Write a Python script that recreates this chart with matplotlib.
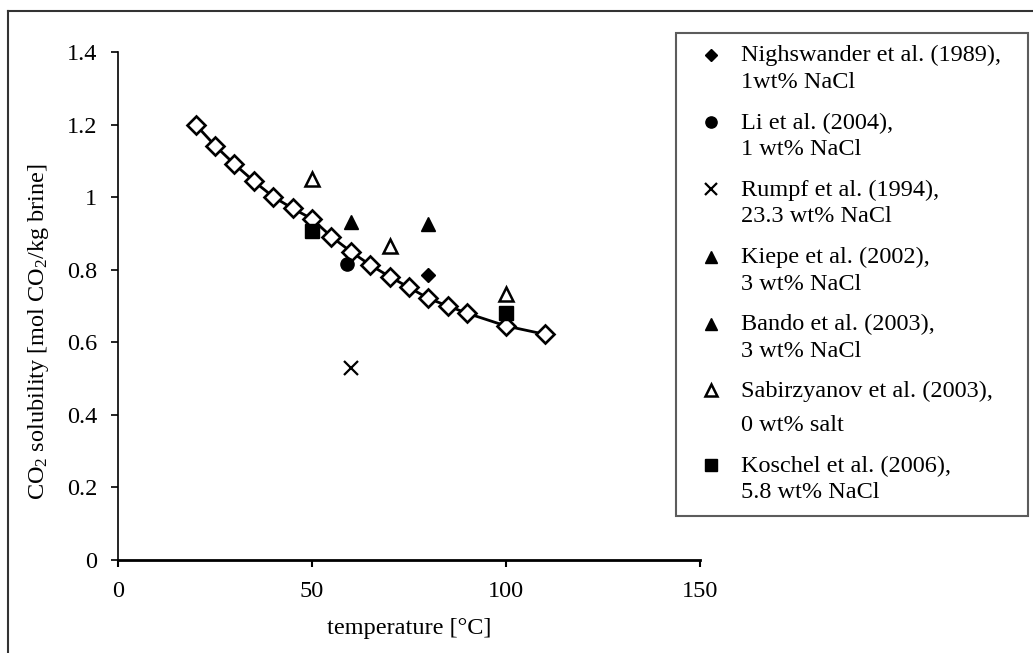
import matplotlib
matplotlib.use("Agg")
import matplotlib.pyplot as plt
from matplotlib.lines import Line2D
from matplotlib.legend_handler import HandlerLine2D

plt.rcParams['font.family'] = ['Liberation Serif', 'DejaVu Serif']
plt.rcParams['mathtext.fontset'] = 'custom'
plt.rcParams['mathtext.rm'] = 'Liberation Serif'
plt.rcParams['mathtext.it'] = 'Liberation Serif:italic'
FS = 17.5

# Model curve (open diamonds with line)
model_T = [20, 25, 30, 35, 40, 45, 50, 55, 60, 65, 70, 75, 80, 85, 90, 100, 110]
model_S = [1.20, 1.142, 1.091, 1.044, 1.001, 0.969, 0.940, 0.891, 0.850, 0.813,
           0.781, 0.751, 0.721, 0.700, 0.680, 0.645, 0.622]

# Experimental data
nigh_T, nigh_S = [80], [0.786]
li_T, li_S = [59], [0.816]
rumpf_T, rumpf_S = [60], [0.530]
kiepe_T, kiepe_S = [80], [0.925]
bando_T, bando_S = [60], [0.932]
sabir_T, sabir_S = [50, 70, 100], [1.049, 0.866, 0.733]
kosch_T, kosch_S = [50, 100], [0.907, 0.680]

labels = [
    "Nighswander et al. (1989),\n1wt% NaCl",
    "Li et al. (2004),\n1 wt% NaCl",
    "Rumpf et al. (1994),\n23.3 wt% NaCl",
    "Kiepe et al. (2002),\n3 wt% NaCl",
    "Bando et al. (2003),\n3 wt% NaCl",
    "Sabirzyanov et al. (2003),\n0 wt% salt",
    "Koschel et al. (2006),\n5.8 wt% NaCl",
]
x_ticks = [0, 50, 100, 150]
y_ticks = [0, 0.2, 0.4, 0.6, 0.8, 1.0, 1.2, 1.4]
y_ticklabels = ["0", "0.2", "0.4", "0.6", "0.8", "1", "1.2", "1.4"]

W, H = 1033, 653
fig = plt.figure(figsize=(W / 100, H / 100), dpi=100)
ax = fig.add_axes([118 / W, 1 - 560 / H, 582 / W, 508 / H])

ax.plot(model_T, model_S, color='black', lw=2, marker='D', ms=8.8,
        mfc='white', mec='black', mew=1.9, zorder=3)

h1, = ax.plot(nigh_T, nigh_S, 'D', color='black', ms=7, ls='none', zorder=4)
h2, = ax.plot(li_T, li_S, 'o', color='black', ms=9.5, ls='none', zorder=4)
h3, = ax.plot(rumpf_T, rumpf_S, 'x', color='black', ms=10, mew=1.6, ls='none', zorder=4)
h4, = ax.plot(kiepe_T, kiepe_S, '^', color='black', ms=10, ls='none', zorder=4)
h5, = ax.plot(bando_T, bando_S, '^', color='black', ms=10, ls='none', zorder=4)
h6, = ax.plot(sabir_T, sabir_S, '^', mfc='white', mec='black', mew=1.8, ms=10, ls='none', zorder=4)
h7, = ax.plot(kosch_T, kosch_S, 's', color='black', ms=9.5, ls='none', zorder=4)

ax.set_xlim(0, 150)
ax.set_ylim(0, 1.4)
ax.set_xticks(x_ticks)
ax.set_xticklabels([str(v) for v in x_ticks])
ax.set_yticks(y_ticks)
ax.set_yticklabels(y_ticklabels)
ax.spines['top'].set_visible(False)
ax.spines['right'].set_visible(False)
ax.spines['left'].set_linewidth(1.2)
ax.spines['bottom'].set_linewidth(2.0)
ax.tick_params(axis='y', direction='out', length=5, width=1.2, pad=10, labelsize=FS)
ax.tick_params(axis='x', direction='out', length=5, width=1.5, pad=10, labelsize=FS)

ax.set_xlabel("temperature [°C]", fontsize=FS, va='center')
ax.xaxis.set_label_coords(0.5, -0.134)
ax.set_ylabel("CO$_2$ solubility [mol CO$_2$/kg brine]", fontsize=FS, va='center')
ax.yaxis.set_label_coords(-0.137, 0.45)


class UpHandler(HandlerLine2D):
    def __init__(self, dy, **kw):
        super().__init__(**kw)
        self.dy = dy

    def create_artists(self, legend, orig_handle, xdescent, ydescent, width,
                       height, fontsize, trans):
        arts = super().create_artists(legend, orig_handle, xdescent, ydescent,
                                      width, height, fontsize, trans)
        for a in arts:
            yd = a.get_ydata()
            a.set_ydata([y + self.dy for y in yd])
        return arts


handles = [h1, h2, h3, h4, h5, h6, h7]
hmap = {h: UpHandler(9.8) for h in handles}
hmap[h6] = UpHandler(12.8)
leg = fig.legend(handles, labels, loc='upper left',
                 bbox_to_anchor=(676 / W, 1 - 33 / H - 0.001, 352 / W, 0.001), mode='expand',
                 fontsize=FS, frameon=True, fancybox=False, edgecolor='#333333',
                 borderpad=0.5, handlelength=1.9, handletextpad=0.26,
                 labelspacing=0.80, borderaxespad=0, handler_map=hmap,
                 markerscale=0.85)
leg.get_frame().set_linewidth(1.5)
for i, t in enumerate(leg.get_texts()):
    t.set_linespacing(1.80 if i == 5 else 1.35)

# Outer frame (top and left edges visible)
fig.add_artist(Line2D([8 / W, 1.01], [1 - 11 / H, 1 - 11 / H], transform=fig.transFigure,
                      color='#333333', lw=1.5))
fig.add_artist(Line2D([8 / W, 8 / W], [1 - 11 / H, -0.01], transform=fig.transFigure,
                      color='#333333', lw=1.5))

fig.savefig("out.png", dpi=100)
